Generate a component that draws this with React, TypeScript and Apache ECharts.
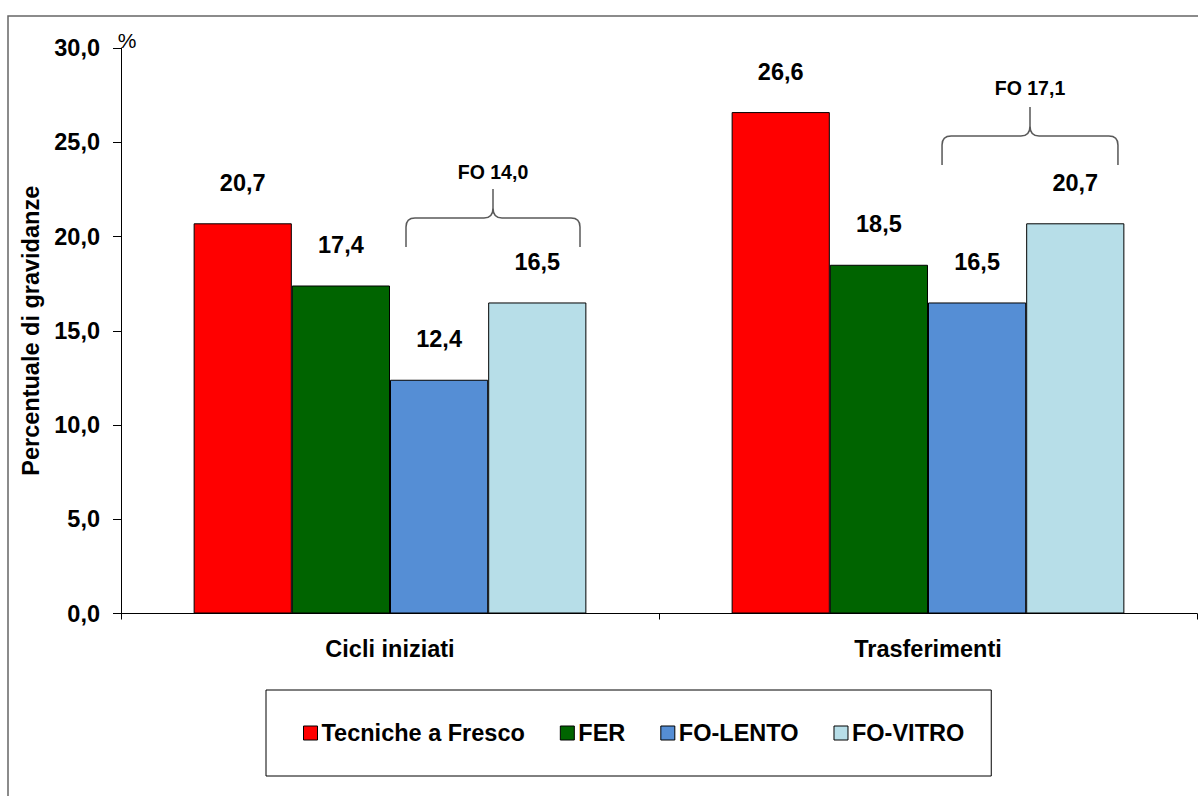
import React, { useEffect, useRef } from "react";
import * as echarts from "echarts";

const categories = ["Cicli iniziati", "Trasferimenti"];
const seriesNames = ["Tecniche a Fresco", "FER", "FO-LENTO", "FO-VITRO"];
const frescoValues = [20.7, 26.6];
const ferValues = [17.4, 18.5];
const foLentoValues = [12.4, 16.5];
const foVitroValues = [16.5, 20.7];
const foTotalLabels = ["FO 14,0", "FO 17,1"];
const seriesColors = ["#FF0000", "#006400", "#558ED5", "#B7DEE8"];
const yMin = 0;
const yMax = 30;
const yInterval = 5;

const FONT = "Arial, 'Liberation Sans', sans-serif";
const FS = 23.5;
const fmt = (v: number) => v.toFixed(1).replace(".", ",");

const braceD =
  "M -87 58 L -87 38 Q -87 29 -78 29 L -9 29 Q 0 29 0 19 L 0 0 M 0 19 Q 0 29 9 29 L 78 29 Q 87 29 87 38 L 87 58";
let braceRegistered = false;

export default function App() {
  const ref = useRef<HTMLDivElement>(null);
  useEffect(() => {
    document.body.style.margin = "0";
    document.body.style.overflow = "hidden";
    if (!braceRegistered) {
      echarts.graphic.registerShape("brace", echarts.graphic.extendPath(braceD, {}) as any);
      braceRegistered = true;
    }
    const chart = echarts.init(ref.current!, null, { renderer: "svg" });
    const allValues = [frescoValues, ferValues, foLentoValues, foVitroValues];
    const braceStyle = { stroke: "#595959", fill: "none", lineWidth: 1.5 };
    const foText = { fontFamily: FONT, fontWeight: "bold", fontSize: 19.5, fill: "#000", align: "center", verticalAlign: "middle" };
    chart.setOption({
      animation: false,
      textStyle: { fontFamily: FONT },
      grid: { left: 121, right: 1, top: 48, bottom: 182.5, containLabel: false },
      legend: {
        data: seriesNames,
        left: 266,
        top: 690,
        orient: "horizontal",
        padding: [31, 27, 31, 37],
        itemGap: 35,
        itemWidth: 14,
        itemHeight: 14,
        icon: "rect",
        borderColor: "#000",
        borderWidth: 1,
        itemStyle: { borderColor: "#000", borderWidth: 1 },
        textStyle: { fontFamily: FONT, fontWeight: "bold", fontSize: FS, color: "#000", padding: [0, 0, 0, -1] },
      },
      xAxis: {
        type: "category",
        data: categories,
        axisLine: { lineStyle: { color: "#000", width: 1 } },
        axisTick: { show: true, length: 6, alignWithLabel: false, lineStyle: { color: "#000" } },
        axisLabel: { margin: 23, fontFamily: FONT, fontWeight: "bold", fontSize: FS, color: "#000" },
      },
      yAxis: {
        type: "value",
        min: yMin,
        max: yMax,
        interval: yInterval,
        name: "Percentuale di gravidanze",
        nameLocation: "middle",
        nameRotate: 90,
        nameGap: 77,
        nameTextStyle: { fontFamily: FONT, fontWeight: "bold", fontSize: FS, color: "#000" },
        splitLine: { show: false },
        axisLine: { show: true, lineStyle: { color: "#000", width: 1 } },
        axisTick: { show: true, length: 8, inside: false, lineStyle: { color: "#000" } },
        axisLabel: {
          margin: 21,
          formatter: (v: number) => fmt(v),
          fontFamily: FONT,
          fontWeight: "bold",
          fontSize: FS,
          color: "#000",
        },
      },
      series: seriesNames.map((name, i) => ({
        name,
        type: "bar",
        data: allValues[i],
        barGap: "0%",
        barCategoryGap: "27%",
        itemStyle: { color: seriesColors[i], borderColor: "#000", borderWidth: 1 },
        label: {
          show: true,
          position: "top",
          distance: 28.5,
          formatter: (p: any) => fmt(p.value),
          fontFamily: FONT,
          fontWeight: "bold",
          fontSize: FS,
          color: "#000",
        },
      })),
      graphic: [
        {
          type: "rect",
          shape: { x: 8, y: 16, width: 1400, height: 1000 },
          style: { fill: "none", stroke: "#666", lineWidth: 1.5 },
          silent: true,
        },
        {
          type: "text",
          x: 127,
          y: 40,
          style: { text: "%", fontFamily: FONT, fontSize: 21, fill: "#000", align: "center", verticalAlign: "middle" },
        },
        { type: "brace", x: 493, y: 189, style: braceStyle },
        { type: "text", x: 493, y: 172, style: { ...foText, text: foTotalLabels[0] } },
        { type: "brace", x: 1030, y: 107, scaleX: 176 / 174, style: braceStyle },
        { type: "text", x: 1030, y: 88, style: { ...foText, text: foTotalLabels[1] } },
      ],
    });
    return () => chart.dispose();
  }, []);
  return <div ref={ref} style={{ width: 1198, height: 796 }} />;
}
